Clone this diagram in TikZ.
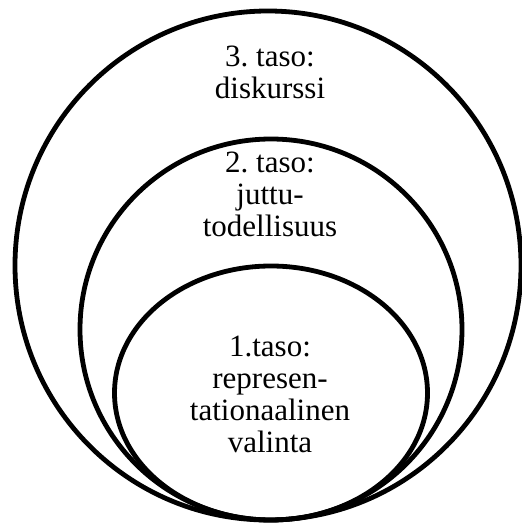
\documentclass[tikz,border=0pt]{standalone}
\usepackage{fontspec}
\setmainfont{Liberation Serif}
\frenchspacing

\begin{document}
\begin{tikzpicture}[x=1pt,y=1pt,
	ring/.style={line width=4.8pt},
	tasoteksti/.style={align=center,anchor=base,inner sep=0pt,font=\fontsize{31}{32}\selectfont}]
	\useasboundingbox (0,0) rectangle (522,525);
	\draw [ring] (268,259.5) ellipse (253 and 254.5);
	\draw [ring] (271,195.5) ellipse (191 and 190.5);
	\draw [ring] (271,132) ellipse (156.5 and 127);
	
	\node (taso3) [tasoteksti] at (270,426) {3. taso:\\diskurssi};
	\node (taso2) [tasoteksti] at (270,288) {2. taso:\\juttu-\\todellisuus};
	\node (taso1) [tasoteksti] at (270,72.3) {1.taso:\\represen-\\tationaalinen\\valinta};
\end{tikzpicture}
\end{document}
